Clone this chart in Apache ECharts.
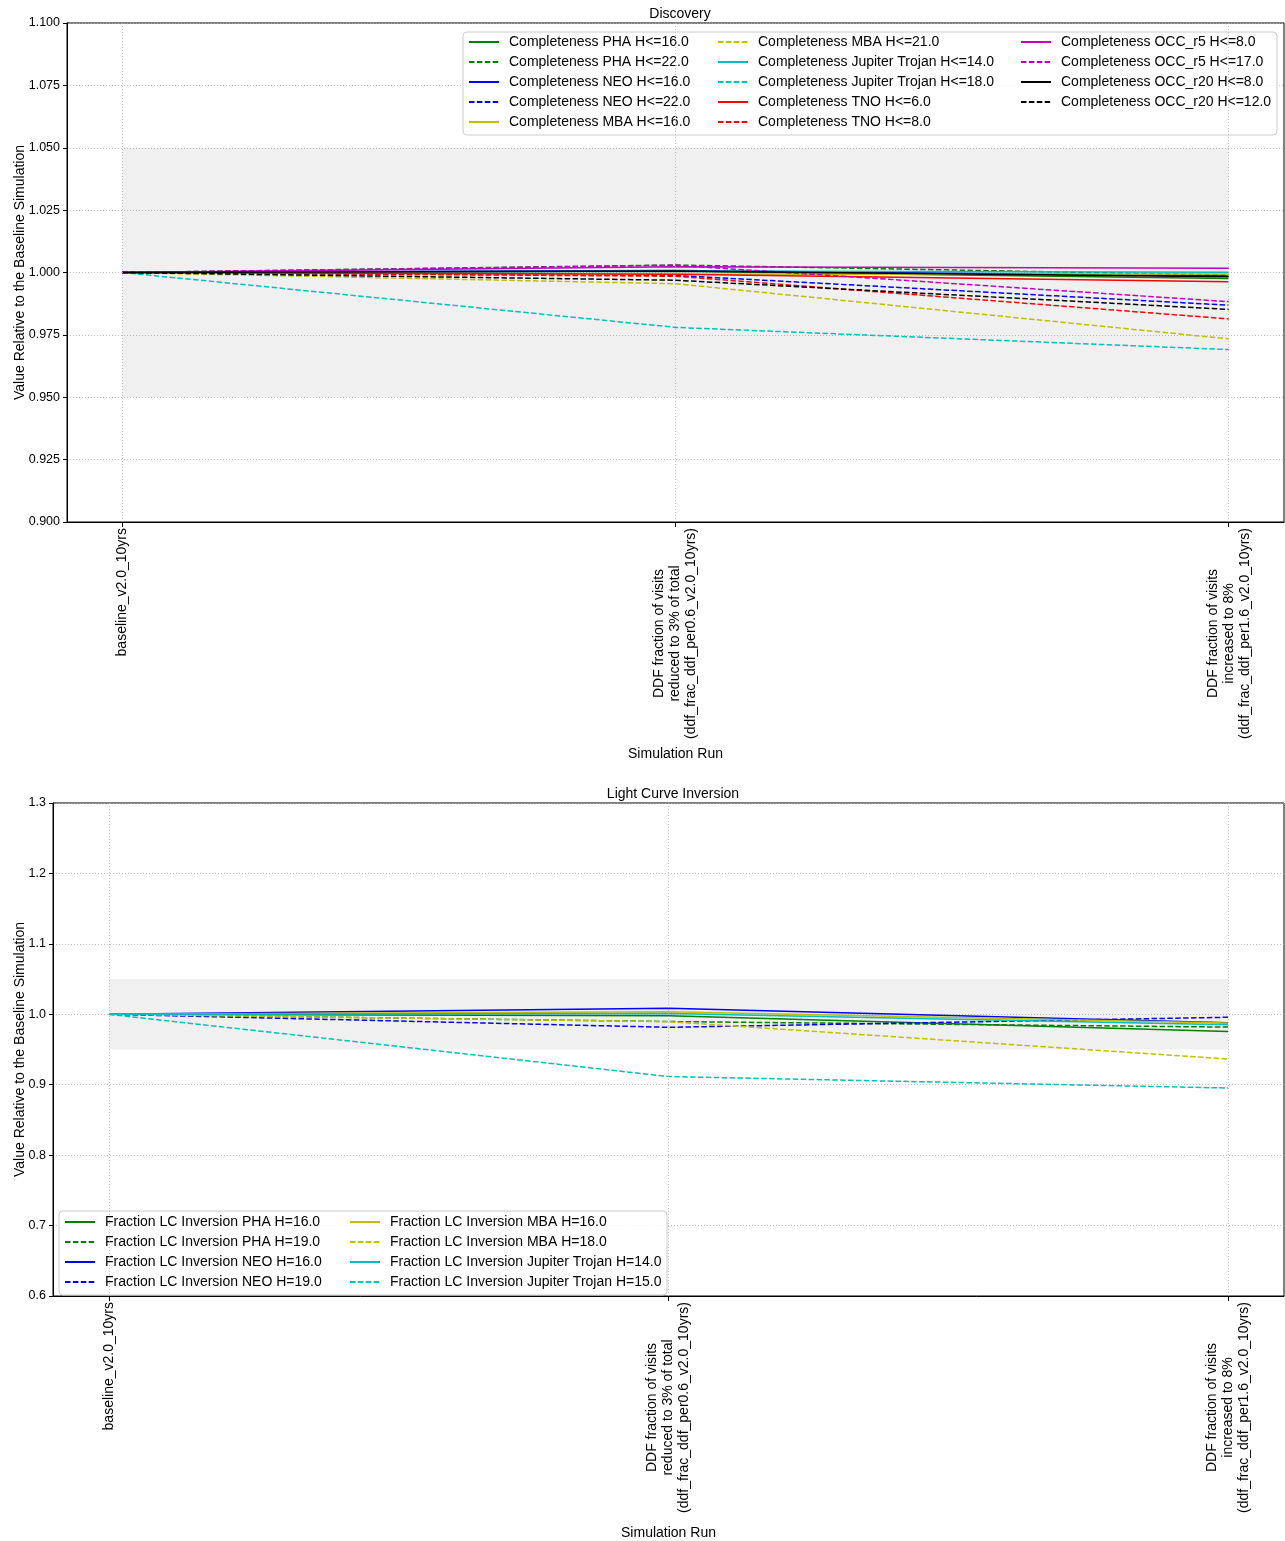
<!DOCTYPE html>
<html>
<head>
<meta charset="utf-8">
<script src="https://cdn.jsdelivr.net/npm/echarts@6/dist/echarts.min.js"></script>
<style>
  html, body { margin: 0; padding: 0; background: #fff; }
  #chart { width: 1285px; height: 1541px; }
</style>
</head>
<body>
<div id="chart"></div>
<script>
// simulation runs on the x axis
const runs = [
  'baseline_v2.0_10yrs',
  'DDF fraction of visits\nreduced to 3% of total\n(ddf_frac_ddf_per0.6_v2.0_10yrs)',
  'DDF fraction of visits\nincreased to 8%\n(ddf_frac_ddf_per1.6_v2.0_10yrs)'
];

// Discovery panel
const phaH16 = [1.0, 1.0005, 0.9976];
const phaH22 = [1.0, 1.0030, 0.9990];
const neoH16 = [1.0, 1.0008, 0.9986];
const neoH22 = [1.0, 0.9988, 0.9869];
const mbaH16 = [1.0, 0.9993, 0.9994];
const mbaH21 = [1.0, 0.9955, 0.9734];
const jtH14 = [1.0, 1.0006, 1.0001];
const jtH18 = [1.0, 0.9780, 0.9691];
const tnoH6 = [1.0, 0.9993, 0.9963];
const tnoH8 = [1.0, 0.9985, 0.9814];
const occR5H8 = [1.0, 1.0023, 1.0017];
const occR5H17 = [1.0, 1.0029, 0.9883];
const occR20H8 = [1.0, 1.0006, 0.9983];
const occR20H12 = [1.0, 0.9969, 0.9852];

// Light curve inversion panel
const lcPhaH16 = [1.0, 0.9980, 0.9755];
const lcPhaH19 = [1.0, 0.9897, 0.9818];
const lcNeoH16 = [1.0, 1.0086, 0.9880];
const lcNeoH19 = [1.0, 0.9815, 0.9958];
const lcMbaH16 = [1.0, 1.0035, 0.9878];
const lcMbaH18 = [1.0, 0.9895, 0.9365];
const lcJtH14 = [1.0, 1.0012, 0.9850];
const lcJtH15 = [1.0, 0.9116, 0.8953];

const discoveryTicks = [0.9, 0.925, 0.95, 0.975, 1.0, 1.025, 1.05, 1.075, 1.1];
const lcTicks = [0.6, 0.7, 0.8, 0.9, 1.0, 1.1, 1.2, 1.3];

const C = { g: '#008000', b: '#0000ff', y: '#bfbf00', c: '#00bfbf', r: '#ff0000', m: '#bf00bf', k: '#000000' };
const DASH = [5.5, 2.4];
const FONT = 'Liberation Sans, Arial, sans-serif';

const discoverySeries = [
  ['Completeness PHA H<=16.0', phaH16, C.g, 'solid'],
  ['Completeness PHA H<=22.0', phaH22, C.g, DASH],
  ['Completeness NEO H<=16.0', neoH16, C.b, 'solid'],
  ['Completeness NEO H<=22.0', neoH22, C.b, DASH],
  ['Completeness MBA H<=16.0', mbaH16, C.y, 'solid'],
  ['Completeness MBA H<=21.0', mbaH21, C.y, DASH],
  ['Completeness Jupiter Trojan H<=14.0', jtH14, C.c, 'solid'],
  ['Completeness Jupiter Trojan H<=18.0', jtH18, C.c, DASH],
  ['Completeness TNO H<=6.0', tnoH6, C.r, 'solid'],
  ['Completeness TNO H<=8.0', tnoH8, C.r, DASH],
  ['Completeness OCC_r5 H<=8.0', occR5H8, C.m, 'solid'],
  ['Completeness OCC_r5 H<=17.0', occR5H17, C.m, DASH],
  ['Completeness OCC_r20 H<=8.0', occR20H8, C.k, 'solid'],
  ['Completeness OCC_r20 H<=12.0', occR20H12, C.k, DASH]
];
const lcSeries = [
  ['Fraction LC Inversion PHA H=16.0', lcPhaH16, C.g, 'solid'],
  ['Fraction LC Inversion PHA H=19.0', lcPhaH19, C.g, DASH],
  ['Fraction LC Inversion NEO H=16.0', lcNeoH16, C.b, 'solid'],
  ['Fraction LC Inversion NEO H=19.0', lcNeoH19, C.b, DASH],
  ['Fraction LC Inversion MBA H=16.0', lcMbaH16, C.y, 'solid'],
  ['Fraction LC Inversion MBA H=18.0', lcMbaH18, C.y, DASH],
  ['Fraction LC Inversion Jupiter Trojan H=14.0', lcJtH14, C.c, 'solid'],
  ['Fraction LC Inversion Jupiter Trojan H=15.0', lcJtH15, C.c, DASH]
];

// measure text so multi-line labels can be centred and legend boxes sized
const ctx = document.createElement('canvas').getContext('2d');
ctx.font = '14px ' + FONT;
const textW = s => ctx.measureText(s).width;
let labelW = 0;
runs.forEach(r => r.split('\n').forEach(l => { labelW = Math.max(labelW, textW(l)); }));

function runLabel(v) {
  const txt = runs[Math.round(v)];
  if (txt == null) return '';
  const lines = txt.split('\n');
  if (lines.length === 1) return txt;
  return lines.map(l => '{c|' + l + '}').join('\n');
}

function makeX(gridIndex, gap) {
  return {
    type: 'value', gridIndex, min: -0.1, max: 2.1,
    name: 'Simulation Run', nameLocation: 'middle', nameGap: gap, nameMoveOverlap: false,
    nameTextStyle: { fontSize: 14, color: '#000', fontFamily: FONT },
    axisLine: { show: true, onZero: false, lineStyle: { color: '#000', width: 1 } },
    axisTick: { show: true, customValues: [0, 1, 2], length: 5, lineStyle: { color: '#000' } },
    axisLabel: {
      customValues: [0, 1, 2], rotate: 90, margin: 6, fontSize: 14, color: '#000', fontFamily: FONT,
      formatter: runLabel, lineHeight: 16,
      rich: { c: { width: Math.ceil(labelW), align: 'center', fontSize: 14, lineHeight: 16, color: '#000', fontFamily: FONT } }
    },
    splitLine: { show: false }
  };
}

function makeY(gridIndex, ticks, step, digits, gap) {
  return {
    type: 'value', gridIndex, min: ticks[0], max: ticks[ticks.length - 1], interval: step,
    name: 'Value Relative to the Baseline Simulation', nameLocation: 'middle', nameGap: gap, nameMoveOverlap: false,
    nameTextStyle: { fontSize: 14, color: '#000', fontFamily: FONT },
    axisLine: { show: true, onZero: false, lineStyle: { color: '#000', width: 1 } },
    axisTick: { show: true, length: 4, lineStyle: { color: '#000' } },
    axisLabel: { fontSize: 12.5, color: '#000', margin: 7, fontFamily: FONT, formatter: v => v.toFixed(digits) },
    splitLine: { show: true, lineStyle: { color: '#b0b0b0', type: [1, 2], width: 0.8 } }
  };
}

function buildSeries(defs, idx) {
  return defs.map((d, i) => {
    const s = {
      name: d[0], type: 'line', xAxisIndex: idx, yAxisIndex: idx,
      data: d[1].map((v, j) => [j, v]),
      symbol: 'circle', showSymbol: false, animation: false, z: 3,
      lineStyle: { color: d[2], width: 1.5, type: d[3] },
      itemStyle: { color: d[2] }
    };
    if (i === 0) {
      s.markArea = {
        silent: true, z: 1,
        itemStyle: { color: 'rgba(0,0,0,0.06)' },
        data: [[{ xAxis: 0, yAxis: 0.95 }, { xAxis: 2, yAxis: 1.05 }]]
      };
      s.markLine = {
        silent: true, symbol: ['none', 'none'], label: { show: false },
        lineStyle: { color: '#b0b0b0', type: [1, 2], width: 0.8 },
        data: [{ xAxis: 0 }, { xAxis: 1 }, { xAxis: 2 }]
      };
    }
    return s;
  });
}

// one legend per column; the first column carries the frame, stretched to boxRight
function legendColumn(names, left, top, boxRight, padTop) {
  const lg = {
    data: names, orient: 'vertical', left, top,
    itemWidth: 30, itemHeight: 14, itemGap: 6, padding: [padTop, 0, 6, 5],
    itemStyle: { opacity: 0 },
    textStyle: { fontSize: 14, color: '#000', fontFamily: FONT, padding: [0, 0, 0, 5] },
    selectedMode: false, z: 5
  };
  if (boxRight != null) {
    const w = Math.max(...names.map(textW));
    lg.padding = [padTop, boxRight - (left + 5 + 30 + 10 + w), 6, 5];
    lg.backgroundColor = 'rgba(255,255,255,0.8)';
    lg.borderColor = '#cccccc';
    lg.borderWidth = 1;
    lg.borderRadius = 4;
    lg.z = 4;
  }
  return lg;
}

const dNames = discoverySeries.map(d => d[0]);
const lNames = lcSeries.map(d => d[0]);

const chart = echarts.init(document.getElementById('chart'));
const option = {
  animation: false,
  backgroundColor: '#fff',
  textStyle: { fontFamily: FONT },
  title: [
    { text: 'Discovery', left: 675, top: 2, textAlign: 'center',
      textStyle: { fontSize: 14, fontWeight: 'normal', color: '#000', fontFamily: FONT } },
    { text: 'Light Curve Inversion', left: 668, top: 782, textAlign: 'center',
      textStyle: { fontSize: 14, fontWeight: 'normal', color: '#000', fontFamily: FONT } }
  ],
  grid: [
    { left: 67, top: 23, width: 1217, height: 499, show: true, borderColor: '#000', borderWidth: 1, backgroundColor: 'transparent' },
    { left: 53, top: 803, width: 1231, height: 499, show: true, borderColor: '#000', borderWidth: 1, backgroundColor: 'transparent' }
  ],
  xAxis: [makeX(0, 225), makeX(1, 230)],
  yAxis: [
    makeY(0, discoveryTicks, 0.025, 3, 40),
    makeY(1, lcTicks, 0.1, 1, 26)
  ],
  legend: [
    legendColumn(dNames.slice(0, 5), 463, 32, 1276, 3),
    legendColumn(dNames.slice(5, 10), 712, 32, null, 3),
    legendColumn(dNames.slice(10), 1015, 32, null, 3),
    legendColumn(lNames.slice(0, 4), 59, 1211, 666, 4),
    legendColumn(lNames.slice(4), 344, 1211, null, 4)
  ],
  series: buildSeries(discoverySeries, 0).concat(buildSeries(lcSeries, 1))
};
chart.setOption(option);
</script>
</body>
</html>
